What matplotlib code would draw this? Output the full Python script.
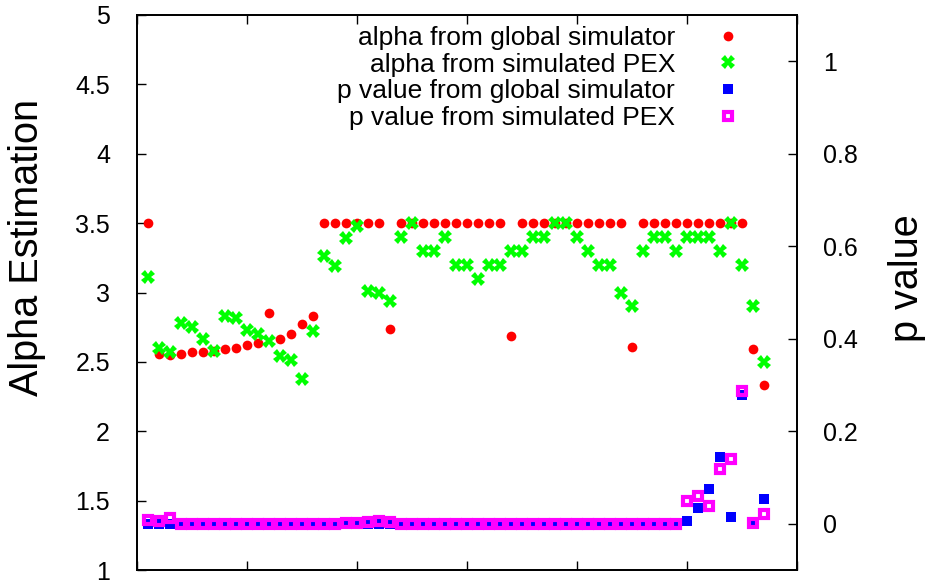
import matplotlib
matplotlib.use("Agg")
import matplotlib.pyplot as plt
import numpy as np

x = list(range(1, 58))

alpha_global = [3.5, 2.56, 2.55, 2.56, 2.57, 2.57, 2.58, 2.59, 2.60, 2.62,
                2.635, 2.85, 2.665, 2.70, 2.77, 2.83, 3.5, 3.5, 3.5, 3.5,
                3.5, 3.5, 2.74, 3.5, 3.5, 3.5, 3.5, 3.5, 3.5, 3.5,
                3.5, 3.5, 3.5, 2.69, 3.5, 3.5, 3.5, 3.5, 3.5, 3.5,
                3.5, 3.5, 3.5, 3.5, 2.61, 3.5, 3.5, 3.5, 3.5, 3.5,
                3.5, 3.5, 3.5, 3.5, 3.5, 2.59, 2.33]

alpha_pex = [3.11, 2.60, 2.57, 2.78, 2.75, 2.665, 2.58, 2.83, 2.815, 2.73,
             2.70, 2.65, 2.545, 2.51, 2.38, 2.725, 3.26, 3.19, 3.39, 3.48,
             3.01, 3.00, 2.94, 3.40, 3.50, 3.30, 3.30, 3.40, 3.20, 3.20,
             3.10, 3.20, 3.20, 3.30, 3.30, 3.40, 3.40, 3.50, 3.50, 3.40,
             3.30, 3.20, 3.20, 3.00, 2.90, 3.30, 3.40, 3.40, 3.30, 3.40,
             3.40, 3.40, 3.30, 3.50, 3.20, 2.90, 2.50]

p_global = [0.0] * 49 + [0.006, 0.035, 0.076, 0.145, 0.014, 0.278, 0.0, 0.053]

p_pex = ([0.009, 0.007, 0.013] + [0.0] * 15 + [0.002, 0.002, 0.004, 0.007, 0.003]
         + [0.0] * 26 + [0.050, 0.060, 0.039, 0.119, 0.140, 0.288, 0.001, 0.021])

labels = ["alpha from global simulator", "alpha from simulated PEX",
          "p value from global simulator", "p value from simulated PEX"]

plt.rcParams['font.family'] = ['Liberation Sans', 'DejaVu Sans']

fig = plt.figure(figsize=(9.28, 5.82), dpi=100)
ax = fig.add_axes([137/928, 1-570/582, (797-137)/928, (570-15)/582])
ax2 = ax.twinx()

h1, = ax.plot(x, alpha_global, linestyle='none', marker='o', color='#ff0000',
              markersize=7.0, markeredgewidth=0, label=labels[0])
h2, = ax.plot(x, alpha_pex, linestyle='none', marker='X', color='#00ff00',
              markersize=10.0, markeredgewidth=0, label=labels[1])
h3, = ax2.plot(x, p_global, linestyle='none', marker='s', color='#0000ff',
               markersize=7.0, markeredgewidth=0, label=labels[2])
h4, = ax2.plot(x, p_pex, linestyle='none', marker='s', markerfacecolor='none',
               markeredgecolor='#ff00ff', markersize=5.4, markeredgewidth=3.0,
               label=labels[3])

ax.set_xlim(0, 60)
ax.set_ylim(1, 5)
ax2.set_ylim(-0.1, 1.1)
ax.set_xticks(np.arange(0, 61, 10))
ax.set_xticklabels([])
ax.set_yticks(np.arange(1, 5.01, 0.5))
ax.set_yticklabels(['1', '1.5', '2', '2.5', '3', '3.5', '4', '4.5', '5'])
ax2.set_yticks([0, 0.2, 0.4, 0.6, 0.8, 1.0])
ax2.set_yticklabels(['0', '0.2', '0.4', '0.6', '0.8', '1'])

ax.tick_params(axis='x', direction='in', length=6.5, width=1.0, top=True, bottom=True)
ax.tick_params(axis='y', direction='in', length=6.5, width=1.0, right=False,
               labelsize=18, pad=19.5)
ax2.tick_params(axis='y', direction='in', length=6.5, width=1.0,
                labelsize=18, pad=18.5)
for a in (ax, ax2):
    for s in a.spines.values():
        s.set_linewidth(1.3)

fig.text(27/928, 1-247/582, 'Alpha Estimation', rotation=90, fontsize=28.5,
         ha='center', va='center')
fig.text(907/928, 1-278/582, 'p value', rotation=90, fontsize=28.5,
         ha='center', va='center')

leg = ax2.legend(handles=[h1, h2, h3, h4], loc='upper right',
                 bbox_to_anchor=((741-137)/660, 1-(26-15)/555),
                 frameon=False, markerfirst=False, numpoints=1,
                 fontsize=19, handlelength=1.0, handletextpad=1.5,
                 labelspacing=0.1, borderpad=0, borderaxespad=0)

fig.savefig('out.png', dpi=100)
